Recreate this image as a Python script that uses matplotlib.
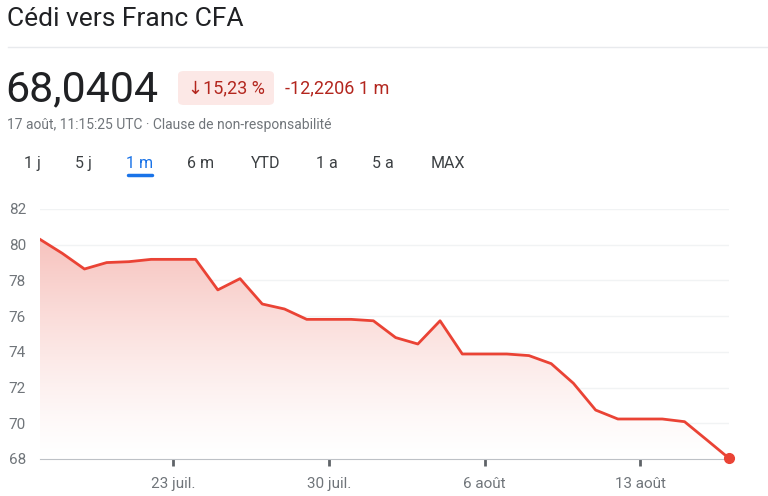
import numpy as np
import matplotlib
matplotlib.use("Agg")
import matplotlib.pyplot as plt
from matplotlib.patches import FancyBboxPatch

plt.rcParams['font.family'] = ['Roboto', 'DejaVu Sans']

# daily values, 17 juil. -> 17 août
day = np.arange(32)
rate = [80.30, 79.52, 78.64, 79.00, 79.05, 79.18, 79.18, 79.18,
        77.47, 78.10, 76.68, 76.40, 75.82, 75.82, 75.82, 75.74,
        74.80, 74.44, 75.74, 73.88, 73.88, 73.88, 73.79, 73.34,
        72.24, 70.74, 70.24, 70.24, 70.24, 70.09, 69.07, 68.04]
tick_days = [6, 13, 20, 27]
tick_labels = ['23 juil.', '30 juil.', '6 août', '13 août']
y_ticks = [68, 70, 72, 74, 76, 78, 80, 82]
tabs = ['1 j', '5 j', '1 m', '6 m', 'YTD', '1 a', '5 a', 'MAX']
tab_x = [32, 83, 140, 201, 266, 327, 383, 448]

RED = '#ea4335'
DARKRED = '#b3261e'
GREY = '#70757a'

fig = plt.figure(figsize=(7.68, 4.96), dpi=100)
W, H = 768, 496

def fx(px):
    return px / W

def fy(py):
    return 1 - py / H

# header
fig.text(fx(7), fy(19), 'Cédi vers Franc CFA', fontsize=19, color='#202124', va='center')
fig.add_artist(plt.Line2D([fx(8), 1], [fy(47), fy(47)], color='#e8eaed', lw=1))
fig.text(fx(5), fy(90), '68,0404', fontsize=31, color='#202124', va='center')
badge = FancyBboxPatch((fx(178), fy(105)), fx(96), 34 / H,
                       boxstyle='round,pad=0,rounding_size=0.008',
                       transform=fig.transFigure, fc='#fce8e6', ec='none')
fig.add_artist(badge)
fig.text(fx(226), fy(88), '↓15,23 %', fontsize=13, color=DARKRED, va='center', ha='center')
fig.text(fx(285), fy(88), '-12,2206 1 m', fontsize=13, color=DARKRED, va='center')
fig.text(fx(7), fy(125), '17 août, 11:15:25 UTC · Clause de non-responsabilité',
         fontsize=10, color=GREY, va='center')
for lab, x in zip(tabs, tab_x):
    c = '#1a73e8' if lab == '1 m' else '#3c4043'
    fig.text(fx(x), fy(164), lab, fontsize=11.5, color=c, va='center', ha='center')
fig.add_artist(plt.Line2D([fx(128), fx(152)], [fy(175), fy(175)], color='#1a73e8',
                          lw=2.5, solid_capstyle='round'))

# chart
ax = fig.add_axes([fx(40), fy(459), fx(689), 250 / H])
ax.set_xlim(0, 31)
ax.set_ylim(68, 82)

poly = ax.fill_between(day, rate, 68, color='none', lw=0)
grad = np.linspace(0, 1, 256).reshape(-1, 1) ** 1.3
cmap = matplotlib.colors.LinearSegmentedColormap.from_list('g', ['#ffffff', '#f7c3be'])
img = ax.imshow(grad, extent=[0, 31, 68, max(rate)], origin='lower', aspect='auto',
                cmap=cmap, zorder=1)
img.set_clip_path(poly.get_paths()[0], transform=ax.transData)

ax.plot(day, rate, color=RED, lw=2, zorder=3)
ax.plot(day[-1], rate[-1], 'o', color=RED, ms=7, clip_on=False, zorder=4)

ax.set_yticks(y_ticks)
ax.set_yticklabels([str(v) for v in y_ticks])
for v in y_ticks[1:]:
    ax.axhline(v, color='#f1f3f4', lw=1, zorder=0)
ax.set_xticks(tick_days)
ax.set_xticklabels(tick_labels)
ax.tick_params(axis='y', length=0, pad=10, labelsize=11, labelcolor=GREY)
ax.tick_params(axis='x', length=5, width=2, color='#5f6368', pad=8, labelsize=11,
               labelcolor=GREY)
for s in ['top', 'right', 'left']:
    ax.spines[s].set_visible(False)
ax.spines['bottom'].set_color('#bdc1c6')
ax.spines['bottom'].set_zorder(2)

fig.savefig('out.png', dpi=100)
